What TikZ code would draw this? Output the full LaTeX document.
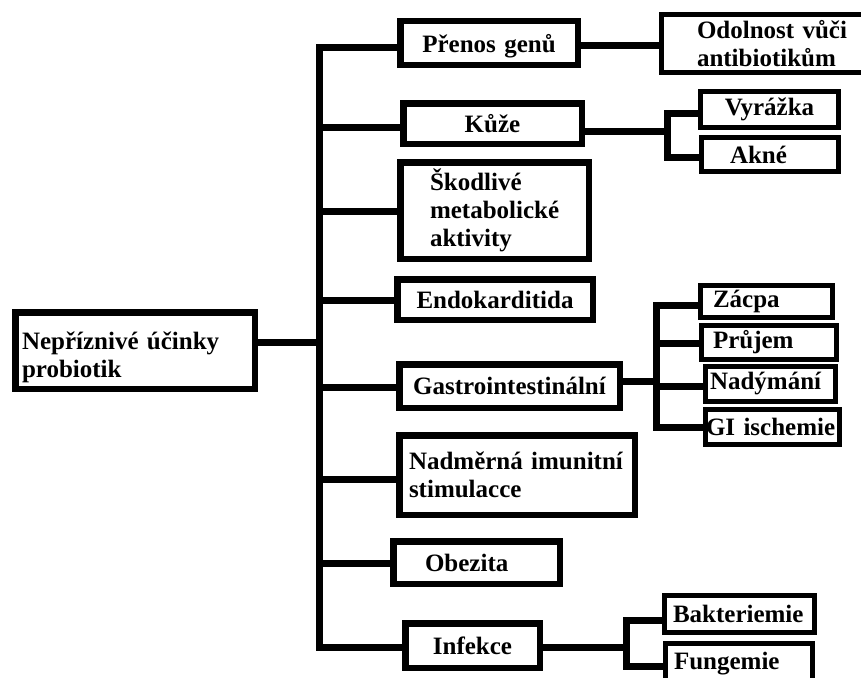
\documentclass[tikz,border=0pt]{standalone}
\usepackage{fontspec}
\setmainfont{Liberation Serif}
\begin{document}
\begin{tikzpicture}[x=1pt,y=-1pt,
  mainbox/.style={draw=black, line width=6.5pt, fill=white, inner sep=0pt, font=\fontsize{25}{28}\selectfont\bfseries},
  leafbox/.style={draw=black, line width=5pt, fill=white, inner sep=0pt, font=\fontsize{25}{28}\selectfont\bfseries},
  conn/.style={draw=black, line width=7pt, line join=miter, line cap=butt}]
\clip (0,0) rectangle (861,677);
\fill[white] (0,0) rectangle (861,677);

% ---- connector points ----
\coordinate (tTop) at (319.5,47.5);
\coordinate (tBot) at (319.5,647);
\coordinate (jM) at (319.5,342);
\coordinate (bK) at (319.5,127);
\coordinate (bS) at (319.5,211);
\coordinate (bE) at (319.5,300);
\coordinate (bG) at (319.5,387);
\coordinate (bN) at (319.5,479);
\coordinate (bO) at (319.5,563);

% main column boxes
\node[mainbox, minimum width=239.5pt, minimum height=76.5pt, text width=226pt, align=left] (main) at (135,350.5) {\rule{0pt}{31pt}Nepříznivé účinky\\probiotik};
\node[mainbox, minimum width=177.5pt, minimum height=43.5pt, text width=170pt, align=center] (prenos) at (489,43) {\rule{0pt}{24pt}Přenos genů};
\node[mainbox, minimum width=178.5pt, minimum height=40.5pt, text width=170pt, align=center] (kuze) at (492.5,123.5) {Kůže};
\node[mainbox, minimum width=188.5pt, minimum height=96.5pt, text width=129pt, align=left] (skod) at (494.5,210.5) {\mbox{Škodlivé}\\\mbox{metabolické}\\\mbox{aktivity}};
\node[mainbox, minimum width=195.5pt, minimum height=40.5pt, text width=180pt, align=center] (endo) at (495,299.5) {Endokarditida};
\node[mainbox, minimum width=220.5pt, minimum height=43.5pt, text width=210pt, align=center] (gastro) at (509.5,386) {Gastrointestinální};
\node[mainbox, minimum width=235.5pt, minimum height=79.5pt, text width=216pt, align=left] (nadm) at (517,475) {\mbox{Nadměrná imunitní}\\\mbox{stimulacce}};
\node[mainbox, minimum width=166.5pt, minimum height=42.5pt, text width=103pt, align=left] (obez) at (476.5,562.5) {Obezita};
\node[mainbox, minimum width=134.5pt, minimum height=44.5pt, text width=120pt, align=center] (infek) at (472.5,645.5) {Infekce};

% leaf boxes
\node[leafbox, minimum width=202pt, minimum height=58pt, text width=131pt, align=left] (odol) at (762.5,43.5) {\mbox{Odolnost vůči}\\\mbox{antibiotikům}};
\node[leafbox, minimum width=138pt, minimum height=36pt, text width=130pt, align=center] (vyr) at (769.5,109.5) {Vyrážka};
\node[leafbox, minimum width=137pt, minimum height=34pt, text width=80pt, align=left] (akne) at (770,154.5) {Akné};
\node[leafbox, minimum width=132pt, minimum height=32pt, text width=107pt, align=left] (zacpa) at (766.5,301.5) {Zácpa};
\node[leafbox, minimum width=135pt, minimum height=34pt, text width=112pt, align=left] (pruj) at (769,342.5) {Průjem};
\node[leafbox, minimum width=130pt, minimum height=35pt, text width=121pt, align=left] (nady) at (770.5,384) {Nadýmání};
\node[leafbox, minimum width=134pt, minimum height=35pt, text width=133pt, align=left] (gi) at (772.5,427) {\mbox{GI ischemie}};
\node[leafbox, minimum width=150pt, minimum height=37pt, text width=133pt, align=left] (bakt) at (739.5,614) {Bakteriemie};
\node[leafbox, minimum width=147pt, minimum height=40pt, text width=130pt, align=left] (fung) at (739,663.5) {Fungemie};

% ---- connectors ----
\path[conn] (prenos.west |- tTop) -- (tTop) -- (tBot) -- (infek.west |- tBot);
\path[conn] (main.east |- jM) -- (jM);
\path[conn] (bK) -- (kuze.west |- bK);
\path[conn] (bS) -- (skod.west |- bS);
\path[conn] (bE) -- (endo.west |- bE);
\path[conn] (bG) -- (gastro.west |- bG);
\path[conn] (bN) -- (nadm.west |- bN);
\path[conn] (bO) -- (obez.west |- bO);

% Prenos -> Odolnost
\coordinate (pO) at (620,46);
\path[conn] (prenos.east |- pO) -- (odol.west |- pO);

% Kuze bracket
\coordinate (kv1) at (667,113);
\coordinate (kv2) at (667,157);
\coordinate (kvm) at (667,131);
\path[conn] (kuze.east |- kvm) -- (kvm);
\path[conn] (vyr.west |- kv1) -- (kv1) -- (kv2) -- (akne.west |- kv2);

% Gastro bracket
\coordinate (g1) at (656,305);
\coordinate (g2) at (656,343);
\coordinate (g3) at (656,386);
\coordinate (g4) at (656,427);
\coordinate (gm) at (656,381);
\path[conn] (gastro.east |- gm) -- (gm);
\path[conn] (zacpa.west |- g1) -- (g1) -- (g4) -- (gi.west |- g4);
\path[conn] (g2) -- (pruj.west |- g2);
\path[conn] (g3) -- (nady.west |- g3);

% Infekce bracket
\coordinate (i1) at (626,620);
\coordinate (i2) at (626,666);
\coordinate (im) at (626,647);
\path[conn] (infek.east |- im) -- (im);
\path[conn] (bakt.west |- i1) -- (i1) -- (i2) -- (fung.west |- i2);
\end{tikzpicture}
\end{document}
